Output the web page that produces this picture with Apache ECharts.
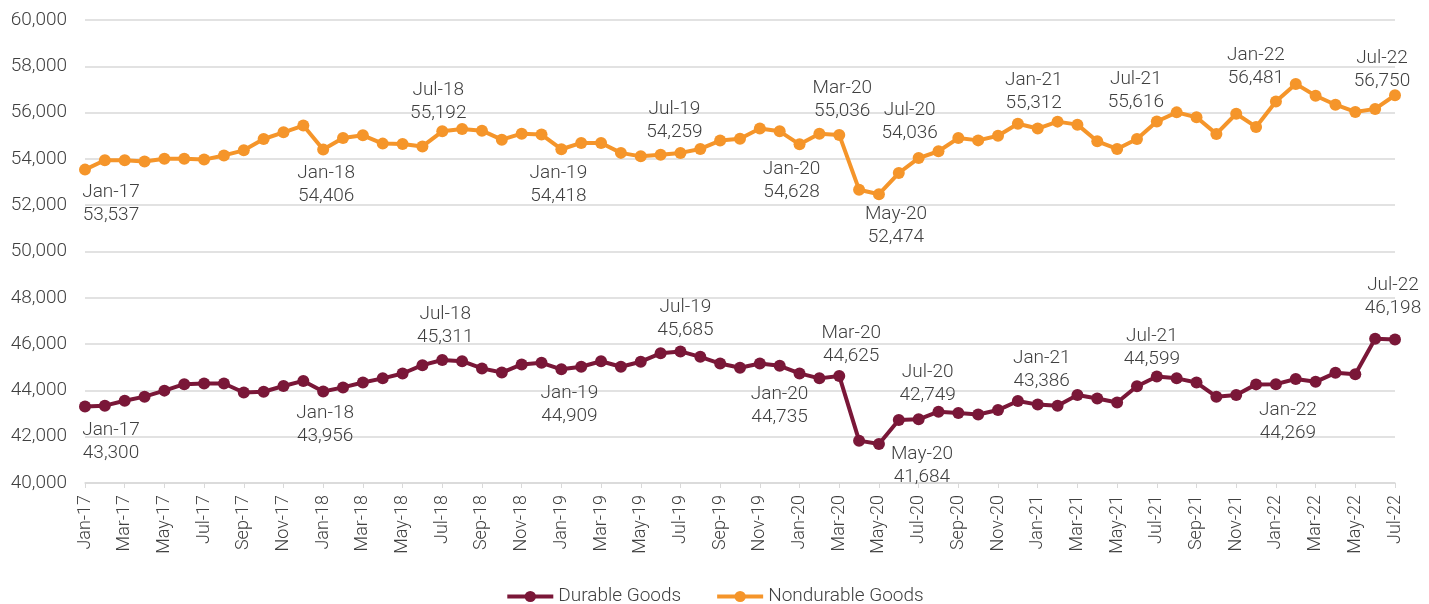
<!DOCTYPE html>
<html>
<head>
<meta charset="utf-8">
<script src="https://cdn.jsdelivr.net/npm/echarts@6/dist/echarts.min.js"></script>
<style>
  html, body { margin: 0; padding: 0; background: #fff; }
  #chart { width: 1429px; height: 604px; }
</style>
</head>
<body>
<div id="chart"></div>
<script>
// months Jan-17 .. Jul-22
const monthNames = ["Jan", "Feb", "Mar", "Apr", "May", "Jun", "Jul", "Aug", "Sep", "Oct", "Nov", "Dec"];
const months = [];
for (let y = 17; y <= 22; y++) {
    monthNames.forEach((m, i) => {
        if (y === 22 && i > 6) return;
        months.push(m + "-" + y);
    });
}

const durable = [
    43300, 43340, 43550, 43730, 43990, 44270, 44300, 44300, 43910, 43940, 44190, 44410,
    43956, 44130, 44340, 44520, 44730, 45090, 45311, 45260, 44950, 44770, 45120, 45190,
    44909, 45020, 45260, 45020, 45240, 45600, 45685, 45450, 45160, 44980, 45160, 45060,
    44735, 44520, 44625, 41830, 41684, 42720, 42749, 43080, 43020, 42960, 43150, 43540,
    43386, 43340, 43800, 43650, 43480, 44180, 44599, 44520, 44340, 43730, 43800, 44260,
    44269, 44490, 44370, 44760, 44700, 46230, 46198
];

const nondurable = [
    53537, 53940, 53940, 53890, 54010, 54010, 53970, 54150, 54370, 54860, 55150, 55440,
    54406, 54900, 55020, 54660, 54640, 54540, 55192, 55290, 55220, 54830, 55090, 55050,
    54418, 54690, 54690, 54260, 54110, 54180, 54259, 54430, 54790, 54870, 55310, 55190,
    54628, 55090, 55036, 52670, 52474, 53390, 54036, 54330, 54900, 54800, 55000, 55520,
    55312, 55610, 55480, 54760, 54430, 54860, 55616, 56010, 55800, 55080, 55950, 55380,
    56481, 57240, 56730, 56340, 56030, 56160, 56750
];

// annotated points: [index, dx, dy] of the label block centre from the point
const durableNotes = [
    [0, 26, 35], [12, 2, 33], [18, 3, -34], [24, 8, 35], [30, 5, -33], [36, -20, 32],
    [38, 12, -31], [40, 43, 22], [42, 9, -36], [48, 4, -35], [54, -5, -29], [60, 12, 38], [66, -2, -43]
];
const nondurableNotes = [
    [0, 26, 34], [12, 3, 35], [18, -4, -30], [24, -3, 36], [30, -6, -32], [36, -8, 36],
    [38, 3, -35], [40, 17, 32], [42, -9, -36], [48, -4, -37], [54, -21, -31], [60, -20, -35], [66, -13, -25]
];

const fmt = (v) => v.toLocaleString("en-US");

function buildData(values, notes) {
    const map = {};
    notes.forEach((n) => { map[n[0]] = n; });
    return values.map((v, i) => {
        const n = map[i];
        if (!n) return v;
        return {
            value: v,
            label: {
                show: true,
                position: "inside",
                offset: [n[1], n[2]],
                align: "center",
                verticalAlign: "middle"
            }
        };
    });
}

const labelStyle = {
    show: false,
    formatter: (p) => p.name + "\n" + fmt(p.value),
    color: "#404040",
    fontFamily: "Roboto",
    fontWeight: 300,
    fontSize: 19,
    lineHeight: 23
};

const chart = echarts.init(document.getElementById("chart"));
chart.setOption({
    animation: false,
    textStyle: { fontFamily: "Roboto", fontWeight: 300 },
    grid: { left: 85, right: 34, top: 20, bottom: 121 },
    legend: {
        top: 582,
        left: "center",
        itemWidth: 46,
        itemHeight: 14,
        itemGap: 34,
        lineStyle: { width: 4 },
        textStyle: { color: "#404040", fontSize: 19, fontFamily: "Roboto", fontWeight: 300 },
        data: ["Durable Goods", "Nondurable Goods"]
    },
    xAxis: {
        type: "category",
        boundaryGap: false,
        data: months,
        axisLine: { lineStyle: { color: "#d9d9d9", width: 1.5 } },
        axisTick: { show: true, interval: 1, length: 5, lineStyle: { color: "#d9d9d9" } },
        axisLabel: {
            interval: 1,
            rotate: 90,
            margin: 12,
            color: "#404040",
            fontSize: 18,
            fontWeight: 300,
            fontFamily: "Roboto"
        }
    },
    yAxis: {
        type: "value",
        min: 40000,
        max: 60000,
        interval: 2000,
        axisLine: { show: false },
        axisTick: { show: false },
        splitLine: { lineStyle: { color: "#d9d9d9", width: 1.5 } },
        axisLabel: {
            formatter: (v) => fmt(v),
            color: "#404040",
            fontSize: 19,
            fontWeight: 300,
            margin: 18,
            fontFamily: "Roboto"
        }
    },
    series: [
        {
            name: "Durable Goods",
            type: "line",
            data: buildData(durable, durableNotes),
            color: "#7A1738",
            symbol: "circle",
            symbolSize: 12,
            lineStyle: { width: 4 },
            label: labelStyle
        },
        {
            name: "Nondurable Goods",
            type: "line",
            data: buildData(nondurable, nondurableNotes),
            color: "#F5952A",
            symbol: "circle",
            symbolSize: 12,
            lineStyle: { width: 4 },
            label: labelStyle
        }
    ]
});
</script>
</body>
</html>
